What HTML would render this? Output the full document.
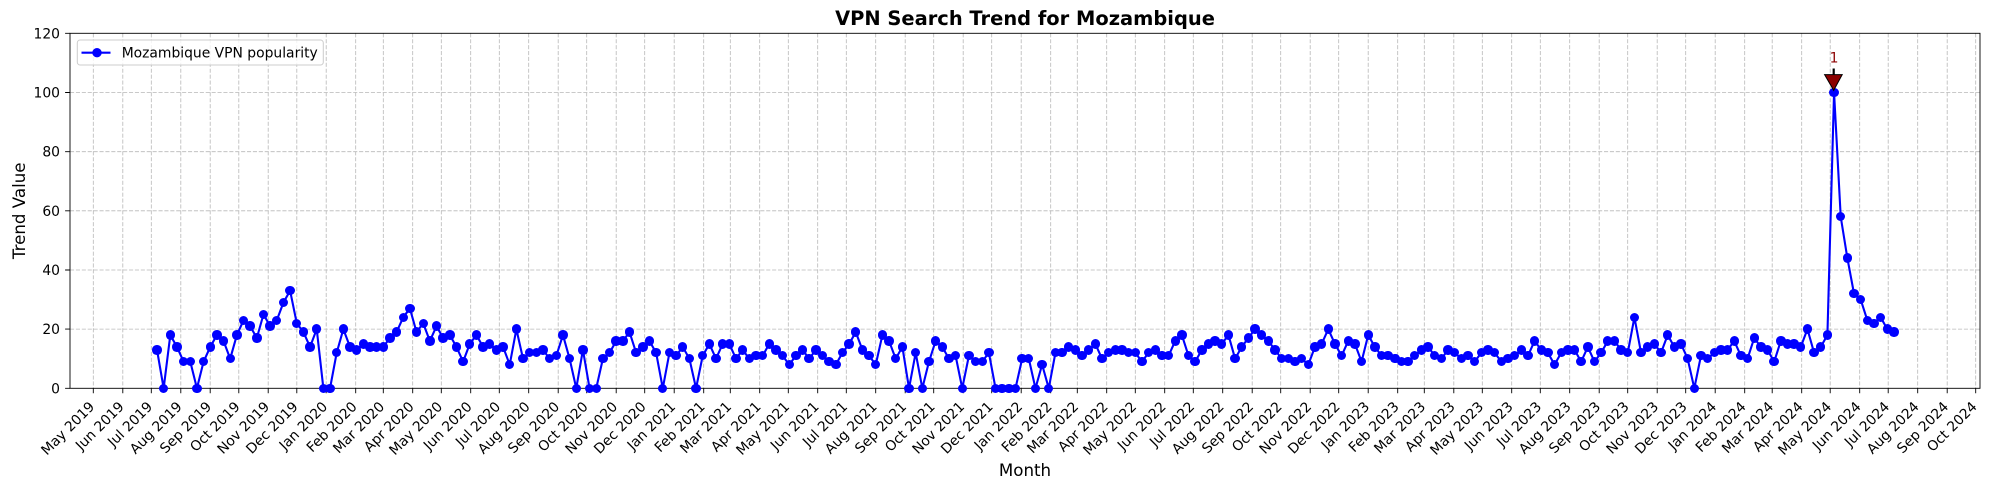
<!DOCTYPE html>
<html><head><meta charset="utf-8"><style>
html,body{margin:0;padding:0;background:#fff}
#c{position:relative;width:1990px;height:490px;overflow:hidden;background:#fff;font-family:"DejaVu Sans","Liberation Sans",sans-serif}
svg{position:absolute;left:0;top:0}
.m{position:absolute;display:block;width:9.4px;height:9.4px;border-radius:50%;background:#0000ff;left:calc(152.3px + var(--i) * 6.655px);top:calc(383.6px - var(--v) * 2.958px)}
</style></head><body><div id="c">
<svg width="1990" height="490" viewBox="0 0 1990 490" font-family="DejaVu Sans, Liberation Sans, sans-serif">
<rect x="0" y="0" width="1990" height="490" fill="#fff"/>
<path fill="none" stroke="#b0b0b0" stroke-opacity="0.9" stroke-width="0.8" stroke-dasharray="4.1 1.8" d="M93.3 33.3V388.3M122.8 33.3V388.3M151.3 33.3V388.3M180.8 33.3V388.3M210.2 33.3V388.3M238.8 33.3V388.3M268.2 33.3V388.3M296.8 33.3V388.3M326.2 33.3V388.3M355.7 33.3V388.3M383.3 33.3V388.3M412.7 33.3V388.3M441.3 33.3V388.3M470.7 33.3V388.3M499.3 33.3V388.3M528.7 33.3V388.3M558.2 33.3V388.3M586.7 33.3V388.3M616.2 33.3V388.3M644.7 33.3V388.3M674.2 33.3V388.3M703.7 33.3V388.3M730.3 33.3V388.3M759.7 33.3V388.3M788.3 33.3V388.3M817.7 33.3V388.3M846.3 33.3V388.3M875.7 33.3V388.3M905.2 33.3V388.3M933.7 33.3V388.3M963.2 33.3V388.3M991.7 33.3V388.3M1021.2 33.3V388.3M1050.7 33.3V388.3M1077.3 33.3V388.3M1106.7 33.3V388.3M1135.3 33.3V388.3M1164.7 33.3V388.3M1193.3 33.3V388.3M1222.7 33.3V388.3M1252.2 33.3V388.3M1280.7 33.3V388.3M1310.2 33.3V388.3M1338.7 33.3V388.3M1368.2 33.3V388.3M1397.7 33.3V388.3M1424.3 33.3V388.3M1453.8 33.3V388.3M1482.3 33.3V388.3M1511.7 33.3V388.3M1540.3 33.3V388.3M1569.7 33.3V388.3M1599.2 33.3V388.3M1627.7 33.3V388.3M1657.2 33.3V388.3M1685.7 33.3V388.3M1715.2 33.3V388.3M1744.7 33.3V388.3M1772.2 33.3V388.3M1801.7 33.3V388.3M1830.2 33.3V388.3M1859.7 33.3V388.3M1888.2 33.3V388.3M1917.7 33.3V388.3M1947.2 33.3V388.3M1975.7 33.3V388.3M70 329.1H1980M70 270H1980M70 210.8H1980M70 151.7H1980M70 92.5H1980"/>
<g transform="translate(157 388.3) scale(6.655 -2.958)">
<polyline fill="none" stroke="#0000ff" stroke-width="2.1" stroke-linejoin="round" vector-effect="non-scaling-stroke" points="0,13 1,0 2,18 3,14 4,9 5,9 6,0 7,9 8,14 9,18 10,16 11,10 12,18 13,23 14,21 15,17 16,25 17,21 18,23 19,29 20,33 21,22 22,19 23,14 24,20 25,0 26,0 27,12 28,20 29,14 30,13 31,15 32,14 33,14 34,14 35,17 36,19 37,24 38,27 39,19 40,22 41,16 42,21 43,17 44,18 45,14 46,9 47,15 48,18 49,14 50,15 51,13 52,14 53,8 54,20 55,10 56,12 57,12 58,13 59,10 60,11 61,18 62,10 63,0 64,13 65,0 66,0 67,10 68,12 69,16 70,16 71,19 72,12 73,14 74,16 75,12 76,0 77,12 78,11 79,14 80,10 81,0 82,11 83,15 84,10 85,15 86,15 87,10 88,13 89,10 90,11 91,11 92,15 93,13 94,11 95,8 96,11 97,13 98,10 99,13 100,11 101,9 102,8 103,12 104,15 105,19 106,13 107,11 108,8 109,18 110,16 111,10 112,14 113,0 114,12 115,0 116,9 117,16 118,14 119,10 120,11 121,0 122,11 123,9 124,9 125,12 126,0 127,0 128,0 129,0 130,10 131,10 132,0 133,8 134,0 135,12 136,12 137,14 138,13 139,11 140,13 141,15 142,10 143,12 144,13 145,13 146,12 147,12 148,9 149,12 150,13 151,11 152,11 153,16 154,18 155,11 156,9 157,13 158,15 159,16 160,15 161,18 162,10 163,14 164,17 165,20 166,18 167,16 168,13 169,10 170,10 171,9 172,10 173,8 174,14 175,15 176,20 177,15 178,11 179,16 180,15 181,9 182,18 183,14 184,11 185,11 186,10 187,9 188,9 189,11 190,13 191,14 192,11 193,10 194,13 195,12 196,10 197,11 198,9 199,12 200,13 201,12 202,9 203,10 204,11 205,13 206,11 207,16 208,13 209,12 210,8 211,12 212,13 213,13 214,9 215,14 216,9 217,12 218,16 219,16 220,13 221,12 222,24 223,12 224,14 225,15 226,12 227,18 228,14 229,15 230,10 231,0 232,11 233,10 234,12 235,13 236,13 237,16 238,11 239,10 240,17 241,14 242,13 243,9 244,16 245,15 246,15 247,14 248,20 249,12 250,14 251,18 252,100 253,58 254,44 255,32 256,30 257,23 258,22 259,24 260,20 261,19"/>
</g>
<rect x="70" y="33.3" width="1910" height="355" fill="none" stroke="#000" stroke-width="0.9"/>
<path fill="none" stroke="#000" stroke-width="0.9" d="M93.3 388.3v4.9M122.8 388.3v4.9M151.3 388.3v4.9M180.8 388.3v4.9M210.2 388.3v4.9M238.8 388.3v4.9M268.2 388.3v4.9M296.8 388.3v4.9M326.2 388.3v4.9M355.7 388.3v4.9M383.3 388.3v4.9M412.7 388.3v4.9M441.3 388.3v4.9M470.7 388.3v4.9M499.3 388.3v4.9M528.7 388.3v4.9M558.2 388.3v4.9M586.7 388.3v4.9M616.2 388.3v4.9M644.7 388.3v4.9M674.2 388.3v4.9M703.7 388.3v4.9M730.3 388.3v4.9M759.7 388.3v4.9M788.3 388.3v4.9M817.7 388.3v4.9M846.3 388.3v4.9M875.7 388.3v4.9M905.2 388.3v4.9M933.7 388.3v4.9M963.2 388.3v4.9M991.7 388.3v4.9M1021.2 388.3v4.9M1050.7 388.3v4.9M1077.3 388.3v4.9M1106.7 388.3v4.9M1135.3 388.3v4.9M1164.7 388.3v4.9M1193.3 388.3v4.9M1222.7 388.3v4.9M1252.2 388.3v4.9M1280.7 388.3v4.9M1310.2 388.3v4.9M1338.7 388.3v4.9M1368.2 388.3v4.9M1397.7 388.3v4.9M1424.3 388.3v4.9M1453.8 388.3v4.9M1482.3 388.3v4.9M1511.7 388.3v4.9M1540.3 388.3v4.9M1569.7 388.3v4.9M1599.2 388.3v4.9M1627.7 388.3v4.9M1657.2 388.3v4.9M1685.7 388.3v4.9M1715.2 388.3v4.9M1744.7 388.3v4.9M1772.2 388.3v4.9M1801.7 388.3v4.9M1830.2 388.3v4.9M1859.7 388.3v4.9M1888.2 388.3v4.9M1917.7 388.3v4.9M1947.2 388.3v4.9M1975.7 388.3v4.9M70 388.3h-4.9M70 329.1h-4.9M70 270h-4.9M70 210.8h-4.9M70 151.7h-4.9M70 92.5h-4.9M70 33.3h-4.9"/>
<g font-size="13.89" fill="#000" text-anchor="end">
<text x="60" y="393.3">0</text>
<text x="60" y="334.1">20</text>
<text x="60" y="275">40</text>
<text x="60" y="215.8">60</text>
<text x="60" y="156.7">80</text>
<text x="60" y="97.5">100</text>
<text x="60" y="38.3">120</text>
</g>
<g font-size="13.89" fill="#000" text-anchor="end">
<text transform="translate(95.3 407.5) rotate(-45)">May 2019</text>
<text transform="translate(124.8 407.5) rotate(-45)">Jun 2019</text>
<text transform="translate(153.3 407.5) rotate(-45)">Jul 2019</text>
<text transform="translate(182.8 407.5) rotate(-45)">Aug 2019</text>
<text transform="translate(212.2 407.5) rotate(-45)">Sep 2019</text>
<text transform="translate(240.8 407.5) rotate(-45)">Oct 2019</text>
<text transform="translate(270.2 407.5) rotate(-45)">Nov 2019</text>
<text transform="translate(298.8 407.5) rotate(-45)">Dec 2019</text>
<text transform="translate(328.2 407.5) rotate(-45)">Jan 2020</text>
<text transform="translate(357.7 407.5) rotate(-45)">Feb 2020</text>
<text transform="translate(385.3 407.5) rotate(-45)">Mar 2020</text>
<text transform="translate(414.7 407.5) rotate(-45)">Apr 2020</text>
<text transform="translate(443.3 407.5) rotate(-45)">May 2020</text>
<text transform="translate(472.7 407.5) rotate(-45)">Jun 2020</text>
<text transform="translate(501.3 407.5) rotate(-45)">Jul 2020</text>
<text transform="translate(530.7 407.5) rotate(-45)">Aug 2020</text>
<text transform="translate(560.2 407.5) rotate(-45)">Sep 2020</text>
<text transform="translate(588.7 407.5) rotate(-45)">Oct 2020</text>
<text transform="translate(618.2 407.5) rotate(-45)">Nov 2020</text>
<text transform="translate(646.7 407.5) rotate(-45)">Dec 2020</text>
<text transform="translate(676.2 407.5) rotate(-45)">Jan 2021</text>
<text transform="translate(705.7 407.5) rotate(-45)">Feb 2021</text>
<text transform="translate(732.3 407.5) rotate(-45)">Mar 2021</text>
<text transform="translate(761.7 407.5) rotate(-45)">Apr 2021</text>
<text transform="translate(790.3 407.5) rotate(-45)">May 2021</text>
<text transform="translate(819.7 407.5) rotate(-45)">Jun 2021</text>
<text transform="translate(848.3 407.5) rotate(-45)">Jul 2021</text>
<text transform="translate(877.7 407.5) rotate(-45)">Aug 2021</text>
<text transform="translate(907.2 407.5) rotate(-45)">Sep 2021</text>
<text transform="translate(935.7 407.5) rotate(-45)">Oct 2021</text>
<text transform="translate(965.2 407.5) rotate(-45)">Nov 2021</text>
<text transform="translate(993.7 407.5) rotate(-45)">Dec 2021</text>
<text transform="translate(1023.2 407.5) rotate(-45)">Jan 2022</text>
<text transform="translate(1052.7 407.5) rotate(-45)">Feb 2022</text>
<text transform="translate(1079.3 407.5) rotate(-45)">Mar 2022</text>
<text transform="translate(1108.7 407.5) rotate(-45)">Apr 2022</text>
<text transform="translate(1137.3 407.5) rotate(-45)">May 2022</text>
<text transform="translate(1166.7 407.5) rotate(-45)">Jun 2022</text>
<text transform="translate(1195.3 407.5) rotate(-45)">Jul 2022</text>
<text transform="translate(1224.7 407.5) rotate(-45)">Aug 2022</text>
<text transform="translate(1254.2 407.5) rotate(-45)">Sep 2022</text>
<text transform="translate(1282.7 407.5) rotate(-45)">Oct 2022</text>
<text transform="translate(1312.2 407.5) rotate(-45)">Nov 2022</text>
<text transform="translate(1340.7 407.5) rotate(-45)">Dec 2022</text>
<text transform="translate(1370.2 407.5) rotate(-45)">Jan 2023</text>
<text transform="translate(1399.7 407.5) rotate(-45)">Feb 2023</text>
<text transform="translate(1426.3 407.5) rotate(-45)">Mar 2023</text>
<text transform="translate(1455.8 407.5) rotate(-45)">Apr 2023</text>
<text transform="translate(1484.3 407.5) rotate(-45)">May 2023</text>
<text transform="translate(1513.7 407.5) rotate(-45)">Jun 2023</text>
<text transform="translate(1542.3 407.5) rotate(-45)">Jul 2023</text>
<text transform="translate(1571.7 407.5) rotate(-45)">Aug 2023</text>
<text transform="translate(1601.2 407.5) rotate(-45)">Sep 2023</text>
<text transform="translate(1629.7 407.5) rotate(-45)">Oct 2023</text>
<text transform="translate(1659.2 407.5) rotate(-45)">Nov 2023</text>
<text transform="translate(1687.7 407.5) rotate(-45)">Dec 2023</text>
<text transform="translate(1717.2 407.5) rotate(-45)">Jan 2024</text>
<text transform="translate(1746.7 407.5) rotate(-45)">Feb 2024</text>
<text transform="translate(1774.2 407.5) rotate(-45)">Mar 2024</text>
<text transform="translate(1803.7 407.5) rotate(-45)">Apr 2024</text>
<text transform="translate(1832.2 407.5) rotate(-45)">May 2024</text>
<text transform="translate(1861.7 407.5) rotate(-45)">Jun 2024</text>
<text transform="translate(1890.2 407.5) rotate(-45)">Jul 2024</text>
<text transform="translate(1919.7 407.5) rotate(-45)">Aug 2024</text>
<text transform="translate(1949.2 407.5) rotate(-45)">Sep 2024</text>
<text transform="translate(1977.7 407.5) rotate(-45)">Oct 2024</text>
</g>
<text x="1025" y="25" text-anchor="middle" font-size="19.44" font-weight="bold" fill="#000">VPN Search Trend for Mozambique</text>
<text x="1025" y="476" text-anchor="middle" font-size="16.67" fill="#000">Month</text>
<text transform="translate(25 210.8) rotate(-90)" text-anchor="middle" font-size="16.67" fill="#000">Trend Value</text>
</svg>
<i class="m" style="--i:0;--v:13"></i><i class="m" style="--i:1;--v:0"></i><i class="m" style="--i:2;--v:18"></i><i class="m" style="--i:3;--v:14"></i><i class="m" style="--i:4;--v:9"></i><i class="m" style="--i:5;--v:9"></i><i class="m" style="--i:6;--v:0"></i><i class="m" style="--i:7;--v:9"></i><i class="m" style="--i:8;--v:14"></i><i class="m" style="--i:9;--v:18"></i>
<i class="m" style="--i:10;--v:16"></i><i class="m" style="--i:11;--v:10"></i><i class="m" style="--i:12;--v:18"></i><i class="m" style="--i:13;--v:23"></i><i class="m" style="--i:14;--v:21"></i><i class="m" style="--i:15;--v:17"></i><i class="m" style="--i:16;--v:25"></i><i class="m" style="--i:17;--v:21"></i><i class="m" style="--i:18;--v:23"></i><i class="m" style="--i:19;--v:29"></i>
<i class="m" style="--i:20;--v:33"></i><i class="m" style="--i:21;--v:22"></i><i class="m" style="--i:22;--v:19"></i><i class="m" style="--i:23;--v:14"></i><i class="m" style="--i:24;--v:20"></i><i class="m" style="--i:25;--v:0"></i><i class="m" style="--i:26;--v:0"></i><i class="m" style="--i:27;--v:12"></i><i class="m" style="--i:28;--v:20"></i><i class="m" style="--i:29;--v:14"></i>
<i class="m" style="--i:30;--v:13"></i><i class="m" style="--i:31;--v:15"></i><i class="m" style="--i:32;--v:14"></i><i class="m" style="--i:33;--v:14"></i><i class="m" style="--i:34;--v:14"></i><i class="m" style="--i:35;--v:17"></i><i class="m" style="--i:36;--v:19"></i><i class="m" style="--i:37;--v:24"></i><i class="m" style="--i:38;--v:27"></i><i class="m" style="--i:39;--v:19"></i>
<i class="m" style="--i:40;--v:22"></i><i class="m" style="--i:41;--v:16"></i><i class="m" style="--i:42;--v:21"></i><i class="m" style="--i:43;--v:17"></i><i class="m" style="--i:44;--v:18"></i><i class="m" style="--i:45;--v:14"></i><i class="m" style="--i:46;--v:9"></i><i class="m" style="--i:47;--v:15"></i><i class="m" style="--i:48;--v:18"></i><i class="m" style="--i:49;--v:14"></i>
<i class="m" style="--i:50;--v:15"></i><i class="m" style="--i:51;--v:13"></i><i class="m" style="--i:52;--v:14"></i><i class="m" style="--i:53;--v:8"></i><i class="m" style="--i:54;--v:20"></i><i class="m" style="--i:55;--v:10"></i><i class="m" style="--i:56;--v:12"></i><i class="m" style="--i:57;--v:12"></i><i class="m" style="--i:58;--v:13"></i><i class="m" style="--i:59;--v:10"></i>
<i class="m" style="--i:60;--v:11"></i><i class="m" style="--i:61;--v:18"></i><i class="m" style="--i:62;--v:10"></i><i class="m" style="--i:63;--v:0"></i><i class="m" style="--i:64;--v:13"></i><i class="m" style="--i:65;--v:0"></i><i class="m" style="--i:66;--v:0"></i><i class="m" style="--i:67;--v:10"></i><i class="m" style="--i:68;--v:12"></i><i class="m" style="--i:69;--v:16"></i>
<i class="m" style="--i:70;--v:16"></i><i class="m" style="--i:71;--v:19"></i><i class="m" style="--i:72;--v:12"></i><i class="m" style="--i:73;--v:14"></i><i class="m" style="--i:74;--v:16"></i><i class="m" style="--i:75;--v:12"></i><i class="m" style="--i:76;--v:0"></i><i class="m" style="--i:77;--v:12"></i><i class="m" style="--i:78;--v:11"></i><i class="m" style="--i:79;--v:14"></i>
<i class="m" style="--i:80;--v:10"></i><i class="m" style="--i:81;--v:0"></i><i class="m" style="--i:82;--v:11"></i><i class="m" style="--i:83;--v:15"></i><i class="m" style="--i:84;--v:10"></i><i class="m" style="--i:85;--v:15"></i><i class="m" style="--i:86;--v:15"></i><i class="m" style="--i:87;--v:10"></i><i class="m" style="--i:88;--v:13"></i><i class="m" style="--i:89;--v:10"></i>
<i class="m" style="--i:90;--v:11"></i><i class="m" style="--i:91;--v:11"></i><i class="m" style="--i:92;--v:15"></i><i class="m" style="--i:93;--v:13"></i><i class="m" style="--i:94;--v:11"></i><i class="m" style="--i:95;--v:8"></i><i class="m" style="--i:96;--v:11"></i><i class="m" style="--i:97;--v:13"></i><i class="m" style="--i:98;--v:10"></i><i class="m" style="--i:99;--v:13"></i>
<i class="m" style="--i:100;--v:11"></i><i class="m" style="--i:101;--v:9"></i><i class="m" style="--i:102;--v:8"></i><i class="m" style="--i:103;--v:12"></i><i class="m" style="--i:104;--v:15"></i><i class="m" style="--i:105;--v:19"></i><i class="m" style="--i:106;--v:13"></i><i class="m" style="--i:107;--v:11"></i><i class="m" style="--i:108;--v:8"></i><i class="m" style="--i:109;--v:18"></i>
<i class="m" style="--i:110;--v:16"></i><i class="m" style="--i:111;--v:10"></i><i class="m" style="--i:112;--v:14"></i><i class="m" style="--i:113;--v:0"></i><i class="m" style="--i:114;--v:12"></i><i class="m" style="--i:115;--v:0"></i><i class="m" style="--i:116;--v:9"></i><i class="m" style="--i:117;--v:16"></i><i class="m" style="--i:118;--v:14"></i><i class="m" style="--i:119;--v:10"></i>
<i class="m" style="--i:120;--v:11"></i><i class="m" style="--i:121;--v:0"></i><i class="m" style="--i:122;--v:11"></i><i class="m" style="--i:123;--v:9"></i><i class="m" style="--i:124;--v:9"></i><i class="m" style="--i:125;--v:12"></i><i class="m" style="--i:126;--v:0"></i><i class="m" style="--i:127;--v:0"></i><i class="m" style="--i:128;--v:0"></i><i class="m" style="--i:129;--v:0"></i>
<i class="m" style="--i:130;--v:10"></i><i class="m" style="--i:131;--v:10"></i><i class="m" style="--i:132;--v:0"></i><i class="m" style="--i:133;--v:8"></i><i class="m" style="--i:134;--v:0"></i><i class="m" style="--i:135;--v:12"></i><i class="m" style="--i:136;--v:12"></i><i class="m" style="--i:137;--v:14"></i><i class="m" style="--i:138;--v:13"></i><i class="m" style="--i:139;--v:11"></i>
<i class="m" style="--i:140;--v:13"></i><i class="m" style="--i:141;--v:15"></i><i class="m" style="--i:142;--v:10"></i><i class="m" style="--i:143;--v:12"></i><i class="m" style="--i:144;--v:13"></i><i class="m" style="--i:145;--v:13"></i><i class="m" style="--i:146;--v:12"></i><i class="m" style="--i:147;--v:12"></i><i class="m" style="--i:148;--v:9"></i><i class="m" style="--i:149;--v:12"></i>
<i class="m" style="--i:150;--v:13"></i><i class="m" style="--i:151;--v:11"></i><i class="m" style="--i:152;--v:11"></i><i class="m" style="--i:153;--v:16"></i><i class="m" style="--i:154;--v:18"></i><i class="m" style="--i:155;--v:11"></i><i class="m" style="--i:156;--v:9"></i><i class="m" style="--i:157;--v:13"></i><i class="m" style="--i:158;--v:15"></i><i class="m" style="--i:159;--v:16"></i>
<i class="m" style="--i:160;--v:15"></i><i class="m" style="--i:161;--v:18"></i><i class="m" style="--i:162;--v:10"></i><i class="m" style="--i:163;--v:14"></i><i class="m" style="--i:164;--v:17"></i><i class="m" style="--i:165;--v:20"></i><i class="m" style="--i:166;--v:18"></i><i class="m" style="--i:167;--v:16"></i><i class="m" style="--i:168;--v:13"></i><i class="m" style="--i:169;--v:10"></i>
<i class="m" style="--i:170;--v:10"></i><i class="m" style="--i:171;--v:9"></i><i class="m" style="--i:172;--v:10"></i><i class="m" style="--i:173;--v:8"></i><i class="m" style="--i:174;--v:14"></i><i class="m" style="--i:175;--v:15"></i><i class="m" style="--i:176;--v:20"></i><i class="m" style="--i:177;--v:15"></i><i class="m" style="--i:178;--v:11"></i><i class="m" style="--i:179;--v:16"></i>
<i class="m" style="--i:180;--v:15"></i><i class="m" style="--i:181;--v:9"></i><i class="m" style="--i:182;--v:18"></i><i class="m" style="--i:183;--v:14"></i><i class="m" style="--i:184;--v:11"></i><i class="m" style="--i:185;--v:11"></i><i class="m" style="--i:186;--v:10"></i><i class="m" style="--i:187;--v:9"></i><i class="m" style="--i:188;--v:9"></i><i class="m" style="--i:189;--v:11"></i>
<i class="m" style="--i:190;--v:13"></i><i class="m" style="--i:191;--v:14"></i><i class="m" style="--i:192;--v:11"></i><i class="m" style="--i:193;--v:10"></i><i class="m" style="--i:194;--v:13"></i><i class="m" style="--i:195;--v:12"></i><i class="m" style="--i:196;--v:10"></i><i class="m" style="--i:197;--v:11"></i><i class="m" style="--i:198;--v:9"></i><i class="m" style="--i:199;--v:12"></i>
<i class="m" style="--i:200;--v:13"></i><i class="m" style="--i:201;--v:12"></i><i class="m" style="--i:202;--v:9"></i><i class="m" style="--i:203;--v:10"></i><i class="m" style="--i:204;--v:11"></i><i class="m" style="--i:205;--v:13"></i><i class="m" style="--i:206;--v:11"></i><i class="m" style="--i:207;--v:16"></i><i class="m" style="--i:208;--v:13"></i><i class="m" style="--i:209;--v:12"></i>
<i class="m" style="--i:210;--v:8"></i><i class="m" style="--i:211;--v:12"></i><i class="m" style="--i:212;--v:13"></i><i class="m" style="--i:213;--v:13"></i><i class="m" style="--i:214;--v:9"></i><i class="m" style="--i:215;--v:14"></i><i class="m" style="--i:216;--v:9"></i><i class="m" style="--i:217;--v:12"></i><i class="m" style="--i:218;--v:16"></i><i class="m" style="--i:219;--v:16"></i>
<i class="m" style="--i:220;--v:13"></i><i class="m" style="--i:221;--v:12"></i><i class="m" style="--i:222;--v:24"></i><i class="m" style="--i:223;--v:12"></i><i class="m" style="--i:224;--v:14"></i><i class="m" style="--i:225;--v:15"></i><i class="m" style="--i:226;--v:12"></i><i class="m" style="--i:227;--v:18"></i><i class="m" style="--i:228;--v:14"></i><i class="m" style="--i:229;--v:15"></i>
<i class="m" style="--i:230;--v:10"></i><i class="m" style="--i:231;--v:0"></i><i class="m" style="--i:232;--v:11"></i><i class="m" style="--i:233;--v:10"></i><i class="m" style="--i:234;--v:12"></i><i class="m" style="--i:235;--v:13"></i><i class="m" style="--i:236;--v:13"></i><i class="m" style="--i:237;--v:16"></i><i class="m" style="--i:238;--v:11"></i><i class="m" style="--i:239;--v:10"></i>
<i class="m" style="--i:240;--v:17"></i><i class="m" style="--i:241;--v:14"></i><i class="m" style="--i:242;--v:13"></i><i class="m" style="--i:243;--v:9"></i><i class="m" style="--i:244;--v:16"></i><i class="m" style="--i:245;--v:15"></i><i class="m" style="--i:246;--v:15"></i><i class="m" style="--i:247;--v:14"></i><i class="m" style="--i:248;--v:20"></i><i class="m" style="--i:249;--v:12"></i>
<i class="m" style="--i:250;--v:14"></i><i class="m" style="--i:251;--v:18"></i><i class="m" style="--i:252;--v:100"></i><i class="m" style="--i:253;--v:58"></i><i class="m" style="--i:254;--v:44"></i><i class="m" style="--i:255;--v:32"></i><i class="m" style="--i:256;--v:30"></i><i class="m" style="--i:257;--v:23"></i><i class="m" style="--i:258;--v:22"></i><i class="m" style="--i:259;--v:24"></i>
<i class="m" style="--i:260;--v:20"></i><i class="m" style="--i:261;--v:19"></i>
<svg width="1990" height="490" viewBox="0 0 1990 490" font-family="DejaVu Sans, Liberation Sans, sans-serif">
<rect x="77.3" y="40" width="246" height="25" rx="2.8" ry="2.8" fill="#fff" fill-opacity="0.8" stroke="#cccccc" stroke-width="1"/>
<line x1="81.5" y1="52.7" x2="110.5" y2="52.7" stroke="#0000ff" stroke-width="2.1"/>
<circle cx="97" cy="52.7" r="4.7" fill="#0000ff"/>
<text x="121.7" y="57.5" font-size="13.89" fill="#000">Mozambique VPN popularity</text>
<text x="1834" y="62.3" text-anchor="middle" font-size="13.89" fill="#8b0000">1</text>
<line x1="1833.7" y1="68.5" x2="1833.7" y2="75" stroke="#000" stroke-width="2.2"/>
<polygon points="1824.6,74.6 1842.2,74.6 1833.7,90.3" fill="#8b0000" stroke="#000" stroke-width="1" stroke-linejoin="miter"/>
</svg>
</div></body></html>
